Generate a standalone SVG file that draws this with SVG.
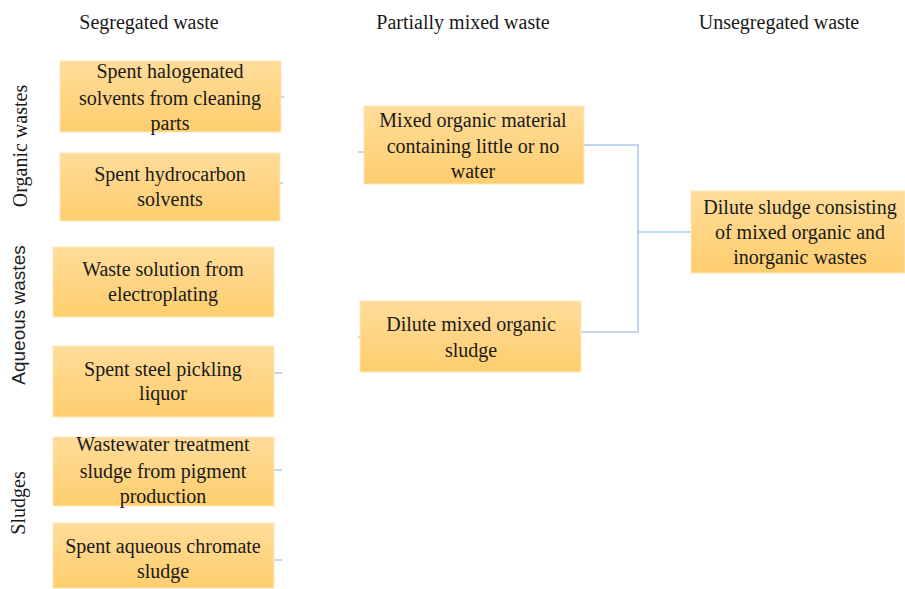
<svg xmlns="http://www.w3.org/2000/svg" width="905" height="589" viewBox="0 0 905 589">
<defs>
<linearGradient id="g" x1="0" y1="0" x2="0" y2="1">
<stop offset="0" stop-color="#FFDC9A"/>
<stop offset="1" stop-color="#FECE6E"/>
</linearGradient>
<style>
.box{fill:url(#g);stroke:#FFE7B8;stroke-width:1}
.t,.h,.v{font-family:'Liberation Serif','Tinos','Times New Roman','DejaVu Serif',serif;fill:#1a1a1a;text-anchor:middle}
.t,.h{font-size:20px}
.v{font-size:20px}
.vs{font-family:'Liberation Sans',Arial,sans-serif;font-size:19px;fill:#222;text-anchor:middle}
.c{fill:none;stroke:#A9C8E8;stroke-width:1.5}
</style>
</defs>
<rect width="905" height="589" fill="#fff"/>
<g id="headers">
<text class="h" x="149" y="29">Segregated waste</text>
<text class="h" x="463" y="29">Partially mixed waste</text>
<text class="h" x="779" y="29">Unsegregated waste</text>
</g>
<g id="categories">
<text class="v" transform="translate(27,146) rotate(-90)">Organic wastes</text>
<text class="vs" transform="translate(25,315) rotate(-90)">Aqueous  wastes</text>
<text class="v" transform="translate(25,503) rotate(-90)">Sludges</text>
</g>
<g id="connectors">
<line class="c" x1="281" y1="97" x2="284" y2="97"/>
<line class="c" x1="280" y1="183" x2="283" y2="183"/>
<line class="c" x1="274" y1="373" x2="282" y2="373"/>
<line class="c" x1="274" y1="470" x2="282" y2="470"/>
<line class="c" x1="274" y1="560" x2="282" y2="560"/>
<line class="c" x1="358" y1="152" x2="364" y2="152"/>
<line class="c" x1="358" y1="337" x2="360" y2="337"/>
<polyline class="c" points="584,145 638,145 638,332 566,332"/>
<line class="c" x1="638" y1="232" x2="691" y2="232"/>
</g>
<g id="n1"><rect class="box" x="60" y="61" width="221" height="71"/>
<text class="t" x="170" y="78">Spent halogenated</text><text class="t" x="170" y="105">solvents from cleaning</text><text class="t" x="170" y="130">parts</text></g>
<g id="n2"><rect class="box" x="60" y="153" width="220" height="68"/>
<text class="t" x="170" y="181">Spent hydrocarbon</text><text class="t" x="170" y="206">solvents</text></g>
<g id="n3"><rect class="box" x="53" y="247" width="221" height="70"/>
<text class="t" x="163" y="276">Waste solution from</text><text class="t" x="163" y="301">electroplating</text></g>
<g id="n4"><rect class="box" x="53" y="346" width="221" height="71"/>
<text class="t" x="163" y="376">Spent steel pickling</text><text class="t" x="163" y="400">liquor</text></g>
<g id="n5"><rect class="box" x="53" y="437" width="221" height="69"/>
<text class="t" x="163" y="451">Wastewater treatment</text><text class="t" x="163" y="478">sludge from pigment</text><text class="t" x="163" y="503">production</text></g>
<g id="n6"><rect class="box" x="53" y="523" width="221" height="65"/>
<text class="t" x="163" y="553">Spent aqueous chromate</text><text class="t" x="163" y="578">sludge</text></g>
<g id="m1"><rect class="box" x="364" y="106" width="220" height="78"/>
<text class="t" x="473" y="127">Mixed organic material</text><text class="t" x="473" y="153">containing little or no</text><text class="t" x="473" y="178">water</text></g>
<g id="m2"><rect class="box" x="360" y="301" width="221" height="71"/>
<text class="t" x="471" y="331">Dilute mixed organic</text><text class="t" x="471" y="357">sludge</text></g>
<g id="r1"><rect class="box" x="691" y="191" width="214" height="82"/>
<text class="t" x="800" y="214">Dilute sludge consisting</text><text class="t" x="800" y="239">of mixed organic and</text><text class="t" x="800" y="264">inorganic wastes</text></g>
</svg>
